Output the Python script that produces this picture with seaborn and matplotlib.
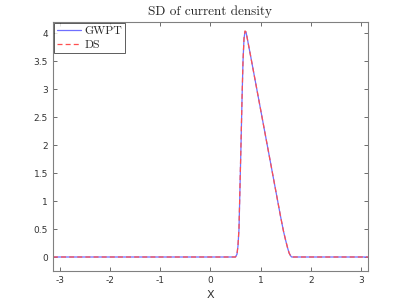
"""
plot.py - SD of current density, GWPT vs DS
"""

import numpy as np
import pandas as pd
import matplotlib
matplotlib.use('Agg')
import matplotlib.pyplot as plt
import seaborn as sns

# values
x_vals = [-3.1416, 0.50, 0.53, 0.55, 0.57, 0.59, 0.61, 0.63, 0.65, 0.67, 0.69,
          0.71, 0.73, 0.80, 0.90, 1.00, 1.10, 1.20, 1.30, 1.40, 1.46, 1.50,
          1.54, 1.57, 1.60, 1.62, 3.1416]
gwpt = [0, 0, 0.05, 0.20, 0.50, 1.25, 2.00, 2.80, 3.50, 3.90, 4.03,
        4.02, 3.93, 3.60, 3.12, 2.64, 2.16, 1.68, 1.20, 0.72, 0.45, 0.30,
        0.16, 0.07, 0.02, 0, 0]
ds = [0, 0, 0.05, 0.21, 0.52, 1.28, 2.03, 2.82, 3.51, 3.91, 4.04,
      4.02, 3.93, 3.60, 3.12, 2.64, 2.16, 1.68, 1.20, 0.72, 0.45, 0.30,
      0.16, 0.07, 0.02, 0, 0]

x_ticks = [-3, -2, -1, 0, 1, 2, 3]
y_ticks = [0, 0.5, 1, 1.5, 2, 2.5, 3, 3.5, 4]

sns.set_style('white')
plt.rcParams['font.family'] = ['DejaVu Sans']
plt.rcParams['axes.unicode_minus'] = False

df = pd.DataFrame({'x': x_vals, 'GWPT': gwpt, 'DS': ds})

fig = plt.figure(figsize=(4.07, 3.05), dpi=100)
ax = fig.add_axes([0.130, 0.1115, 0.774, 0.8165])

sns.lineplot(data=df, x='x', y='GWPT', ax=ax, color='#6f6fff', linewidth=0.9,
             label='GWPT')
sns.lineplot(data=df, x='x', y='DS', ax=ax, color='#ff4f4f', linewidth=0.9,
             linestyle=(0, (4, 2.5)), label='DS')

ax.set_xlim(-np.pi, np.pi)
ax.set_ylim(-0.25, 4.2)
ax.set_xticks(x_ticks)
ax.set_yticks(y_ticks)
ax.set_xticklabels([str(t) for t in x_ticks])
ax.set_yticklabels([f'{t:g}' for t in y_ticks])
ax.tick_params(direction='in', length=3, width=0.6, labelsize=6.5,
               colors='#555555', labelcolor='#333333',
               top=True, right=True, bottom=True, left=True)
for s in ax.spines.values():
    s.set_color('#808080')
    s.set_linewidth(0.8)

ax.set_xlabel('X', fontsize=8, color='#333333', labelpad=4)
ax.set_ylabel('')
ax.set_title('SD of current density', fontfamily='cmr10', fontsize=9.5,
             pad=5)

leg = ax.legend(loc='upper left', prop={'family': 'cmr10', 'size': 8.5},
                frameon=True, fancybox=False, borderaxespad=0.1,
                handlelength=2.0, handletextpad=0.3, borderpad=0.25,
                labelspacing=0.3)
leg.get_frame().set_edgecolor('#333333')
leg.get_frame().set_linewidth(0.7)

fig.savefig('out.png', dpi=100)
